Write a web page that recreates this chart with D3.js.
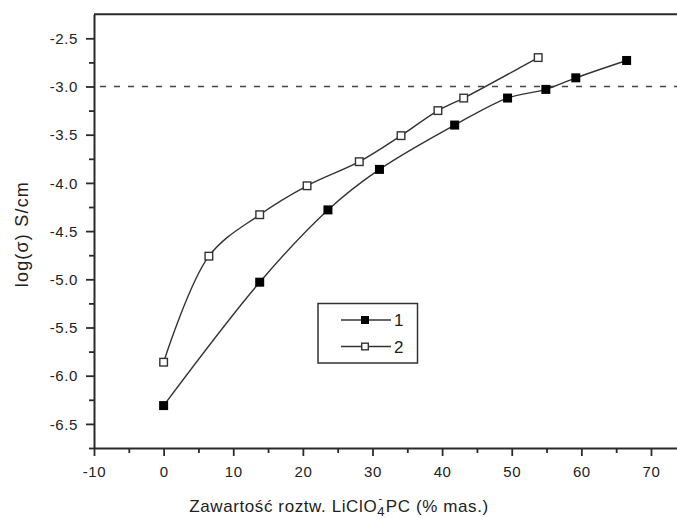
<!DOCTYPE html>
<html>
<head>
<meta charset="utf-8">
<script src="https://cdn.jsdelivr.net/npm/d3@7"></script>
<style>
  html, body { margin: 0; padding: 0; background: #fff; }
  svg { display: block; }
  text { font-family: "Liberation Sans", Arial, sans-serif; fill: #222; }
</style>
</head>
<body>
<svg id="chart" width="677" height="518"></svg>
<script>
// Conductivity vs. LiClO4/PC content
const series1X = [0, 13.8, 23.6, 31.0, 41.8, 49.4, 54.9, 59.2, 66.5];
const series1Y = [-6.31, -5.03, -4.28, -3.86, -3.40, -3.12, -3.03, -2.91, -2.73];
const series2X = [0, 6.5, 13.8, 20.6, 28.1, 34.1, 39.4, 43.1, 53.8];
const series2Y = [-5.86, -4.76, -4.33, -4.03, -3.78, -3.51, -3.25, -3.12, -2.70];
const seriesNames = ["1", "2"];
const referenceLevel = -3.0;
const xTicks = [-10, 0, 10, 20, 30, 40, 50, 60, 70];
const yTicks = [-6.5, -6.0, -5.5, -5.0, -4.5, -4.0, -3.5, -3.0, -2.5];
const xDomain = [-10, 75];
const yDomain = [-6.75, -2.25];

const svg = d3.select("#chart");
const x = d3.scaleLinear().domain(xDomain).range([94, 685.8]);
const y = d3.scaleLinear().domain(yDomain).range([448, 14.2]);
const ink = "#2a2a2a";

const plotLeft = x(xDomain[0]), plotRight = x(xDomain[1]);
const plotTop = y(yDomain[1]), plotBottom = y(yDomain[0]);

// horizontal reference level
svg.append("line")
  .attr("x1", plotLeft).attr("x2", plotRight)
  .attr("y1", y(referenceLevel)).attr("y2", y(referenceLevel))
  .attr("stroke", "#444").attr("stroke-width", 1.6)
  .attr("stroke-dasharray", "6 8").attr("stroke-dashoffset", -6);

// frame: top edge and right edge
svg.append("line").attr("x1", plotLeft).attr("x2", plotRight)
  .attr("y1", plotTop).attr("y2", plotTop)
  .attr("stroke", ink).attr("stroke-width", 2);
svg.append("line").attr("x1", plotRight).attr("x2", plotRight)
  .attr("y1", plotTop).attr("y2", plotBottom)
  .attr("stroke", ink).attr("stroke-width", 2);

// plain hyphen-minus labels
const fmtX = d => String(d);
const fmtY = d => d.toFixed(1);

// x axis with major and minor ticks
const xMinor = d3.range(-5, 75, 10);
const xAxis = svg.append("g").attr("transform", `translate(0,${plotBottom})`);
xAxis.call(d3.axisBottom(x).tickValues(xTicks).tickFormat(fmtX)
  .tickSize(8).tickSizeOuter(0).tickPadding(10));
xAxis.append("g").call(d3.axisBottom(x).tickValues(xMinor).tickFormat("")
  .tickSize(5).tickSizeOuter(0))
  .select(".domain").remove();

// y axis with major and minor ticks
const yMinor = d3.range(-6.75, -2.4, 0.5);
const yAxis = svg.append("g").attr("transform", `translate(${plotLeft},0)`);
yAxis.call(d3.axisLeft(y).tickValues(yTicks).tickFormat(fmtY)
  .tickSize(8).tickSizeOuter(0).tickPadding(8));
yAxis.append("g").call(d3.axisLeft(y).tickValues(yMinor).tickFormat("")
  .tickSize(5).tickSizeOuter(0))
  .select(".domain").remove();

svg.selectAll(".domain").attr("stroke", ink).attr("stroke-width", 2);
svg.selectAll(".tick line").attr("stroke", ink).attr("stroke-width", 1.8);
svg.selectAll(".tick text")
  .attr("font-family", "Liberation Sans, Arial, sans-serif")
  .attr("font-size", 15).attr("letter-spacing", "0.6px").attr("fill", "#222");
yAxis.selectAll(".tick text").attr("dy", "0.34em");

// axis titles
svg.append("text")
  .attr("transform", `translate(28,${(plotTop + plotBottom) / 2 + 3}) rotate(-90)`)
  .attr("text-anchor", "middle")
  .attr("font-size", 18).attr("letter-spacing", "1.2px")
  .text("log(σ) S/cm");

const xTitle = svg.append("text")
  .attr("x", 339).attr("y", 512)
  .attr("text-anchor", "middle")
  .attr("font-size", 17).attr("letter-spacing", "0.6px");
xTitle.append("tspan").text("Zawartość roztw. LiClO");
xTitle.append("tspan").attr("font-size", 13).attr("dy", 3.5).text("4");
xTitle.append("tspan").attr("font-size", 11).attr("dx", -6.5).attr("dy", -14).text("-");
xTitle.append("tspan").attr("dy", 10.5).attr("dx", 3).text("PC (% mas.)");

// curves
const line = d3.line().x(d => x(d[0])).y(d => y(d[1])).curve(d3.curveCatmullRom.alpha(0.5));
const data1 = series1X.map((v, i) => [v, series1Y[i]]);
const data2 = series2X.map((v, i) => [v, series2Y[i]]);

[data1, data2].forEach(d => {
  svg.append("path").datum(d).attr("d", line)
    .attr("fill", "none").attr("stroke", "#333").attr("stroke-width", 1.4);
});

const ms = 9;
svg.append("g").selectAll("rect").data(data1).join("rect")
  .attr("x", d => x(d[0]) - ms / 2).attr("y", d => y(d[1]) - ms / 2)
  .attr("width", ms).attr("height", ms).attr("fill", "#000");
svg.append("g").selectAll("rect").data(data2).join("rect")
  .attr("x", d => x(d[0]) - (ms - 1.4) / 2).attr("y", d => y(d[1]) - (ms - 1.4) / 2)
  .attr("width", ms - 1.4).attr("height", ms - 1.4)
  .attr("fill", "#fff").attr("stroke", "#333").attr("stroke-width", 1.4);

// legend
const legend = svg.append("g").attr("transform", "translate(318,303.5)");
legend.append("rect").attr("width", 99.5).attr("height", 59.5)
  .attr("fill", "#fff").attr("stroke", "#333").attr("stroke-width", 1.5);
const lm = 8;
seriesNames.forEach((name, i) => {
  const g = legend.append("g").attr("transform", `translate(0,${16.5 + i * 26.5})`);
  g.append("line").attr("x1", 23).attr("x2", 73).attr("y1", 0).attr("y2", 0)
    .attr("stroke", "#333").attr("stroke-width", 1.3);
  if (i === 0) {
    g.append("rect").attr("x", 47 - lm / 2).attr("y", -lm / 2).attr("width", lm).attr("height", lm)
      .attr("fill", "#000");
  } else {
    g.append("rect").attr("x", 47 - (lm - 1.4) / 2).attr("y", -(lm - 1.4) / 2)
      .attr("width", lm - 1.4).attr("height", lm - 1.4)
      .attr("fill", "#fff").attr("stroke", "#333").attr("stroke-width", 1.4);
  }
  g.append("text").attr("x", 76).attr("y", 6).attr("font-size", 17).text(name);
});
</script>
</body>
</html>
